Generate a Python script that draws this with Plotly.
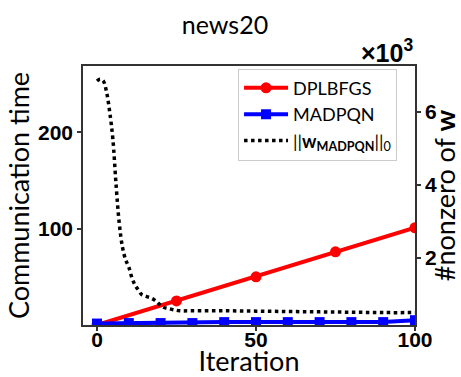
import plotly.graph_objects as go

title = "news20"
x_dp = [0, 25, 50, 75, 100]
y_dp = [0, 25, 50, 76, 101]

x_mad = [0, 10, 20, 30, 40, 50, 60, 70, 80, 90, 100]
y_mad = [1.5, 2, 2, 2, 3, 3, 3, 3, 3, 3, 5]

x_nnz = [0, 1, 2, 3, 4, 5, 6, 7, 8, 9, 10, 11, 12, 13, 14, 15, 16, 17, 18, 19, 20,
         21, 22, 24, 26, 30, 40, 50, 60, 70, 80, 90, 100]
y_nnz = [6.85, 6.9, 6.85, 6.55, 6.0, 5.25, 4.0, 2.95, 2.3, 1.95, 1.75, 1.45, 1.25,
         1.12, 1.0, 0.96, 0.93, 0.9, 0.85, 0.78, 0.7, 0.64, 0.62, 0.58, 0.55, 0.55,
         0.55, 0.54, 0.53, 0.52, 0.51, 0.5, 0.5]

TICK_FONT = "Liberation Sans"
LABEL_FONT = "Lato"

fig = go.Figure()
fig.add_trace(go.Scatter(x=x_dp, y=y_dp, mode="lines+markers", name="DPLBFGS",
                         line=dict(color="#ff0000", width=4),
                         marker=dict(symbol="circle", size=11, color="#ff0000")))
fig.add_trace(go.Scatter(x=x_mad, y=y_mad, mode="lines+markers", name="MADPQN",
                         line=dict(color="#0000ff", width=4),
                         marker=dict(symbol="square", size=10, color="#0000ff")))
fig.add_trace(go.Scatter(x=x_nnz, y=y_nnz, mode="lines",
                         name="||<b>w</b><sub><b>MADPQN</b></sub>||<sub>0</sub>",
                         line=dict(color="black", width=3.5, dash="dot", shape="spline"),
                         yaxis="y2"))

axcommon = dict(showline=True, linecolor="#333333", linewidth=1.5, ticks="outside",
                ticklen=4, tickwidth=1.5, tickcolor="#333333", showgrid=False,
                zeroline=False, automargin=False,
                tickfont=dict(family=TICK_FONT, size=21, color="black", weight="bold"))

fig.update_layout(
    width=461, height=377,
    margin=dict(l=83, r=46, t=66, b=52),
    paper_bgcolor="white", plot_bgcolor="white",
    title=dict(text=title, x=0.488, xanchor="center", y=0.932, yanchor="middle",
               font=dict(family=LABEL_FONT, size=25, color="black")),
    xaxis=dict(range=[-4.4, 100], tickvals=[0, 50, 100], mirror=True,
               ticklabelstandoff=-9,
               title=dict(text="Iteration", standoff=0,
                          font=dict(family=LABEL_FONT, size=27, color="black")),
               **axcommon),
    yaxis=dict(range=[0, 269], tickvals=[100, 200],
               title=dict(text="Communication time", standoff=1,
                          font=dict(family=LABEL_FONT, size=27, color="black")),
               **axcommon),
    yaxis2=dict(range=[0.16, 7.26], tickvals=[2, 4, 6], overlaying="y", side="right",
                title=dict(text="#nonzero of <b>w</b>", standoff=2,
                           font=dict(family=LABEL_FONT, size=27, color="black")),
                **axcommon),
    legend=dict(x=0.467, y=0.99, xanchor="left", yanchor="top",
                bgcolor="rgba(255,255,255,0.8)", bordercolor="#cccccc", borderwidth=1,
                font=dict(family=LABEL_FONT, size=18, color="black"),
                tracegroupgap=0, itemwidth=44),
    showlegend=True,
)
fig.add_annotation(text="×10<sup>3</sup>", xref="paper", yref="paper", x=1.0, y=1.0,
                   xanchor="right", yanchor="bottom", showarrow=False, yshift=-3,
                   font=dict(family=TICK_FONT, size=25, color="black", weight="bold"))

fig.write_html("out.html", config={"displayModeBar": False},
               post_script="document.body.style.margin='0';document.body.style.padding='0';")
